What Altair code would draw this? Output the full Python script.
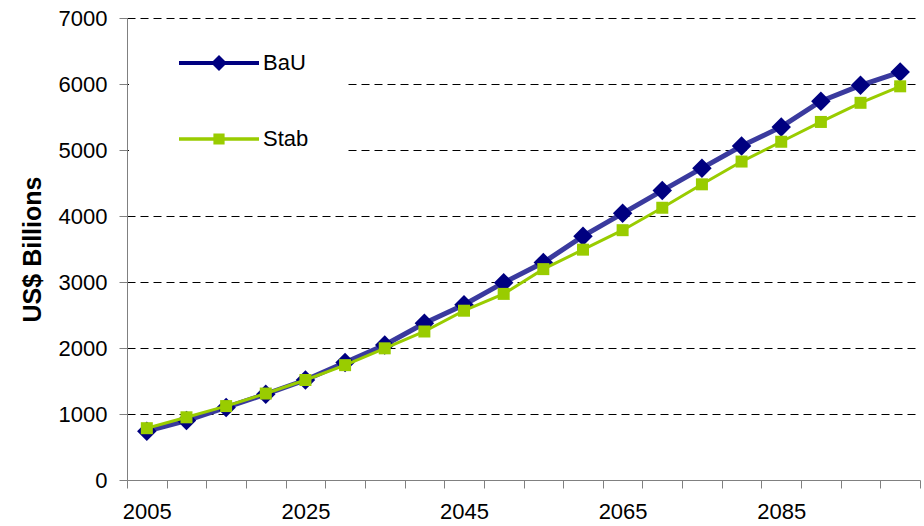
import altair as alt
import pandas as pd

# ---- data ----
years = [2005, 2010, 2015, 2020, 2025, 2030, 2035, 2040, 2045, 2050,
         2055, 2060, 2065, 2070, 2075, 2080, 2085, 2090, 2095, 2100]
bau = [740, 900, 1100, 1300, 1515, 1780, 2045, 2375, 2655, 2990,
       3295, 3695, 4040, 4385, 4725, 5060, 5350, 5740, 5980, 6180]
stab = [785, 950, 1120, 1310, 1515, 1740, 1995, 2250, 2565, 2820,
        3195, 3490, 3785, 4125, 4480, 4825, 5125, 5425, 5715, 5965]
series_names = ["BaU", "Stab"]
y_ticks = [0, 1000, 2000, 3000, 4000, 5000, 6000, 7000]
x_tick_marks = [2002.5 + 5 * i for i in range(21)]  # category boundaries
x_label_years = [2005, 2025, 2045, 2065, 2085]

rows = []
for name, vals in zip(series_names, [bau, stab]):
    for yr, v in zip(years, vals):
        rows.append({"year": yr, "series": name, "value": v})
df = pd.DataFrame(rows)

FONT = "Liberation Sans"
GRAY = "#808080"
NAVY = "#000080"
BAU_LINE = "#3a3a9e"
GREEN = "#99cc00"

label_list = ",".join(str(y) for y in x_label_years)
x_enc = alt.X(
    "year:Q",
    scale=alt.Scale(domain=[2002.5, 2102.5], nice=False, zero=False),
    axis=alt.Axis(
        values=x_tick_marks,
        labelExpr=f"indexof([{label_list}], datum.value + 2.5) >= 0 ? format(datum.value + 2.5, 'd') : ''",
        labelOffset=19.8,
        labelFlush=False,
        labelOverlap=False,
        grid=False,
        tickSize=8,
        tickColor=GRAY,
        domainColor=GRAY,
        labelPadding=13,
        labelFont=FONT,
        labelFontSize=22,
        labelColor="black",
        title=None,
    ),
)
y_enc = alt.Y(
    "value:Q",
    scale=alt.Scale(domain=[0, 7000], nice=False),
    axis=alt.Axis(
        values=y_ticks,
        format="d",
        grid=True,
        gridColor="black",
        gridDash=[8, 5],
        gridOpacity={"condition": {"test": "datum.value === 0", "value": 0}, "value": 1},
        tickSize=8,
        tickColor=GRAY,
        domainColor=GRAY,
        labelPadding=12,
        labelFont=FONT,
        labelFontSize=22,
        labelColor="black",
        title="US$ Billions",
        titleFont=FONT,
        titleFontSize=25,
        titleFontWeight="bold",
        titleColor="black",
        titlePadding=13,
    ),
)

base = alt.Chart(df)
bau_line = base.transform_filter(alt.datum.series == "BaU").mark_line(
    color=BAU_LINE, strokeWidth=5).encode(x=x_enc, y=y_enc)
bau_pts = base.transform_filter(alt.datum.series == "BaU").mark_point(
    shape="diamond", filled=True, size=380, color=NAVY, opacity=1).encode(x=x_enc, y=y_enc)
stab_line = base.transform_filter(alt.datum.series == "Stab").mark_line(
    color=GREEN, strokeWidth=3).encode(x=x_enc, y=y_enc)
stab_pts = base.transform_filter(alt.datum.series == "Stab").mark_point(
    shape="square", filled=True, size=144, color=GREEN, opacity=1).encode(x=x_enc, y=y_enc)

# legend symbols: line segment with marker, as custom paths
# (trailing move-to points only widen the legend's white box, drawing nothing)
legend_paths = [
    "M-1,-0.05H1V0.05H-1Z M0,-0.2L0.2,0L0,0.2L-0.2,0Z M3.1,0",
    "M-1,-0.042H1V0.042H-1Z M-0.14,-0.14H0.14V0.14H-0.14Z M3.1,0 M0,0.45",
]
leg = alt.Legend(
    orient="none",
    legendX=2,
    legendY=2,
    fillColor="white",
    padding=3,
    title=None,
    symbolSize=6400,
    symbolOffset=47,
    symbolStrokeWidth=0,
    rowPadding=25,
    labelOffset=4,
    labelFont=FONT,
    labelFontSize=22,
    labelColor="black",
)
legend_layer = alt.Chart(pd.DataFrame({"series": series_names})).transform_filter(
    "false").mark_point(filled=True, opacity=1).encode(
    color=alt.Color("series:N", scale=alt.Scale(domain=series_names, range=[NAVY, GREEN]), legend=leg),
    shape=alt.Shape("series:N", scale=alt.Scale(domain=series_names, range=legend_paths), legend=leg),
)

chart = alt.layer(bau_line, bau_pts, stab_line, stab_pts, legend_layer).properties(
    width=793,
    height=462,
    autosize=alt.AutoSizeParams(type="none"),
    padding={"left": 127, "top": 18, "right": 4, "bottom": 46},
    background="white",
).configure_view(strokeWidth=0)

chart.save("out.html", embed_options={"renderer": "svg", "actions": False})
